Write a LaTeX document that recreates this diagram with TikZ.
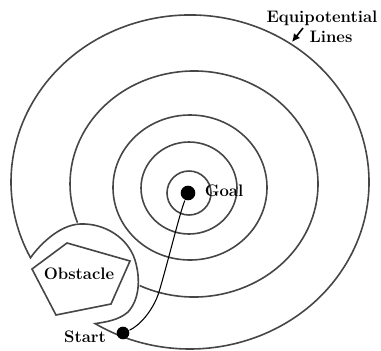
\documentclass[tikz,border=0pt]{standalone}
\usetikzlibrary{arrows.meta}

\tikzset{every picture/.style={line width=1.2pt}}
\tikzset{
  eqline/.style={color={rgb, 255:red, 70; green, 70; blue, 70 }},
  dot/.style={circle, fill=black, draw=none, inner sep=0pt},
  lbl/.style={inner sep=0.75pt, font=\fontsize{12.5}{14}\selectfont\bfseries}
}

\begin{document}
\begin{tikzpicture}[x=0.75pt,y=0.75pt,yscale=-1,xscale=1]
\useasboundingbox (0,0) rectangle (381,350);

%Shape: Circle [id:dp1] 
\draw [eqline] (189,193) circle (22) ;
%Shape: Ellipse [id:dp2] 
\draw [eqline] (189,188) ellipse (48 and 46) ;
%Shape: Ellipse [id:dp3] 
\draw [eqline] (190,187.5) ellipse (77 and 72.5) ;
%Shape: Arc [id:dp4] 
\draw [eqline] (139.64,285.56) arc [start angle=116, end angle=-200, x radius=124, y radius=113] ;
%Curve Lines [id:da5] 
\draw [eqline] (95.14,323.6) arc [start angle=122, end angle=-207, x radius=179, y radius=167] .. controls (38,247) and (58,225) .. (80,224) .. controls (105,223) and (128,238) .. (135,260) .. controls (141,280) and (139,300) .. (128,312) .. controls (119,320) and (106,322) .. (95.14,323.6) -- cycle ;
%Shape: Polygon [id:ds6] 
\draw [eqline] (32,269) -- (67,243) -- (130,261) -- (111,304) -- (56,315) -- cycle ;

%Shape: Circle [id:dp7] 
\node (goal) [dot, minimum size=11pt] at (188,193) {};
%Shape: Circle [id:dp8] 
\node (start) [dot, minimum size=9.5pt] at (123,333) {};
%Curve Lines [id:da9] 
\draw [line width=0.8pt] (goal) .. controls (180,212) and (169,258) .. (159,292) .. controls (153,311) and (139,326) .. (start) ;

% Text Node
\draw (322,18) node (eqlbl) [lbl] {Equipotential};
% Text Node
\draw (331,37) node (lineslbl) [lbl] {Lines};
\coordinate (eqtail) at (303,28);
\coordinate (eqtip) at (292,42);
\draw [-{Latex[length=6pt,width=6pt]}] (eqtail) -- (eqtip) ;
% Text Node
\draw (79,274) node (obslbl) [lbl] {Obstacle};
% Text Node
\draw (85,337) node (startlbl) [lbl] {Start};
% Text Node
\draw (203,191) node (goallbl) [lbl, anchor=west] {Goal};

\end{tikzpicture}
\end{document}
